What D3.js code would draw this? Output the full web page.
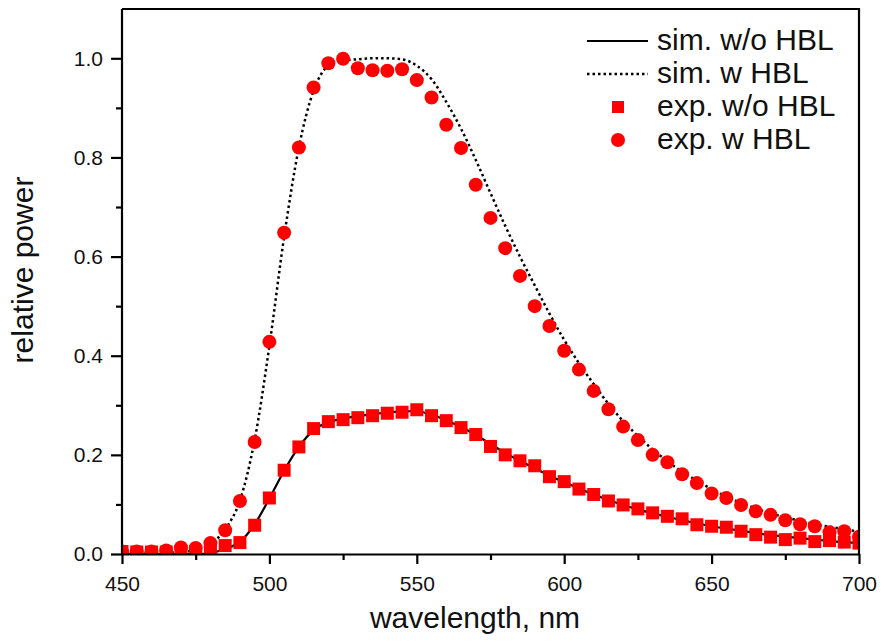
<!DOCTYPE html>
<html>
<head>
<meta charset="utf-8">
<script src="https://cdn.jsdelivr.net/npm/d3@7"></script>
<style>
  body { margin: 0; background: #fff; }
  svg { font-family: "Liberation Sans", Arial, sans-serif; }
  .axis path, .axis line { stroke: #000; stroke-width: 2.2; }
  .axis text { font-size: 21px; fill: #111; }
</style>
</head>
<body>
<div id="chart"></div>
<script>
// wavelength grid of the measured / simulated spectra (nm)
const wavelengths = d3.range(450, 701, 5);

// exp. w HBL (circles)
const expWithHBL = [0.005, 0.005, 0.005, 0.007, 0.013, 0.012, 0.022, 0.048, 0.107, 0.226,
  0.428, 0.648, 0.820, 0.941, 0.990, 0.999, 0.980, 0.976, 0.975, 0.978,
  0.956, 0.921, 0.866, 0.819, 0.745, 0.678, 0.617, 0.561, 0.500, 0.460,
  0.410, 0.372, 0.329, 0.292, 0.257, 0.230, 0.200, 0.185, 0.161, 0.143,
  0.122, 0.113, 0.099, 0.086, 0.079, 0.068, 0.060, 0.056, 0.044, 0.046, 0.035];

// exp. w/o HBL (squares)
const expWithoutHBL = [0.005, 0.004, 0.004, 0.004, 0.005, 0.005, 0.007, 0.017, 0.023, 0.058,
  0.113, 0.169, 0.216, 0.253, 0.267, 0.271, 0.275, 0.279, 0.284, 0.286,
  0.291, 0.279, 0.269, 0.255, 0.241, 0.217, 0.200, 0.188, 0.178, 0.156,
  0.146, 0.131, 0.120, 0.107, 0.099, 0.091, 0.083, 0.076, 0.071, 0.059,
  0.056, 0.054, 0.046, 0.039, 0.034, 0.029, 0.032, 0.025, 0.027, 0.024, 0.022];

// sim. w HBL (dotted)
const simWithHBL = [0.000, 0.000, 0.001, 0.002, 0.004, 0.008, 0.020, 0.050, 0.108, 0.230,
  0.420, 0.640, 0.820, 0.935, 0.985, 0.996, 0.998, 1.000, 1.000, 0.998,
  0.985, 0.958, 0.912, 0.858, 0.795, 0.728, 0.662, 0.600, 0.542, 0.485,
  0.432, 0.385, 0.343, 0.303, 0.268, 0.238, 0.211, 0.187, 0.166, 0.148,
  0.131, 0.116, 0.103, 0.092, 0.082, 0.074, 0.067, 0.060, 0.055, 0.050, 0.045];

// sim. w/o HBL (solid)
const simWithoutHBL = [0.000, 0.000, 0.000, 0.000, 0.000, 0.000, 0.002, 0.010, 0.025, 0.060,
  0.112, 0.168, 0.216, 0.250, 0.266, 0.273, 0.278, 0.282, 0.285, 0.288,
  0.288, 0.281, 0.270, 0.256, 0.240, 0.222, 0.204, 0.188, 0.173, 0.158,
  0.145, 0.132, 0.120, 0.109, 0.099, 0.090, 0.082, 0.075, 0.068, 0.062,
  0.056, 0.051, 0.047, 0.042, 0.038, 0.035, 0.032, 0.029, 0.026, 0.024, 0.022];

const xTicks = [450, 500, 550, 600, 650, 700];
const yTicks = [0, 0.2, 0.4, 0.6, 0.8, 1.0];
const legendLabels = ["sim. w/o HBL", "sim. w HBL", "exp. w/o HBL", "exp. w HBL"];

const W = 881, H = 644;
const margin = {top: 9, right: 22, bottom: 90, left: 122};
const width = W - margin.left - margin.right;
const height = H - margin.top - margin.bottom;

const svg = d3.select("#chart").append("svg")
    .attr("width", W)
    .attr("height", H);

const g = svg.append("g")
    .attr("transform", "translate(" + margin.left + "," + margin.top + ")");

// scales
const x = d3.scaleLinear().domain([450, 700]).range([0, width]);
const y = d3.scaleLinear().domain([0, 1.0]).range([height, 49.3]);

// clip so the edge markers are cut by the frame
g.append("clipPath").attr("id", "plot-clip")
  .append("rect").attr("width", width).attr("height", height);

const plot = g.append("g").attr("clip-path", "url(#plot-clip)");

const line = (vals) => d3.line()
    .x((d, i) => x(wavelengths[i]))
    .y(d => y(d))
    .curve(d3.curveMonotoneX)(vals);

plot.append("path")
    .attr("d", line(simWithoutHBL))
    .attr("fill", "none")
    .attr("stroke", "#000")
    .attr("stroke-width", 2.2);

plot.append("path")
    .attr("d", line(simWithHBL))
    .attr("fill", "none")
    .attr("stroke", "#000")
    .attr("stroke-width", 2.5)
    .attr("stroke-dasharray", "2.5,3");

// squares
const sq = 13;
plot.selectAll("rect.sq")
  .data(expWithoutHBL)
  .join("rect")
    .attr("class", "sq")
    .attr("x", (d, i) => x(wavelengths[i]) - sq / 2)
    .attr("y", d => y(d) - sq / 2)
    .attr("width", sq)
    .attr("height", sq)
    .attr("fill", "#f00");

// circles
plot.selectAll("circle.ci")
  .data(expWithHBL)
  .join("circle")
    .attr("class", "ci")
    .attr("cx", (d, i) => x(wavelengths[i]))
    .attr("cy", d => y(d))
    .attr("r", 7)
    .attr("fill", "#f00");

// axes: major + minor ticks
g.append("g")
    .attr("class", "axis")
    .attr("transform", "translate(0," + height + ")")
    .call(d3.axisBottom(x).tickValues(d3.range(475, 700, 50)).tickSize(6).tickFormat(""))
    .call(a => a.select(".domain").remove());

g.append("g")
    .attr("class", "axis")
    .attr("transform", "translate(0," + height + ")")
    .call(d3.axisBottom(x).tickValues(xTicks).tickSize(10).tickSizeOuter(0).tickPadding(12))
    .call(a => a.selectAll("text").attr("dy", "0.71em"));

g.append("g")
    .attr("class", "axis")
    .call(d3.axisLeft(y).tickValues(d3.range(0.1, 1.0, 0.2)).tickSize(6).tickFormat(""))
    .call(a => a.select(".domain").remove());

g.append("g")
    .attr("class", "axis")
    .call(d3.axisLeft(y).tickValues(yTicks).tickSize(11).tickSizeOuter(0).tickPadding(8).tickFormat(d3.format(".1f")))
    .call(a => a.select(".domain").attr("d", "M0," + height + "V0"));

// frame top and right
g.append("path")
    .attr("d", "M0,0H" + width + "V" + height)
    .attr("fill", "none")
    .attr("stroke", "#000")
    .attr("stroke-width", 2.2);

// axis titles
svg.append("text")
    .attr("x", 475)
    .attr("y", 628)
    .attr("text-anchor", "middle")
    .attr("font-size", 30)
    .attr("fill", "#111")
    .text("wavelength, nm");

svg.append("text")
    .attr("transform", "translate(33,270) rotate(-90)")
    .attr("text-anchor", "middle")
    .attr("font-size", 30)
    .attr("fill", "#111")
    .text("relative power");

// legend
const legend = svg.append("g");
const rowY = [41, 74, 107, 140];

legend.append("line")
    .attr("x1", 587).attr("x2", 648)
    .attr("y1", rowY[0]).attr("y2", rowY[0])
    .attr("stroke", "#000").attr("stroke-width", 2.2);

legend.append("line")
    .attr("x1", 587).attr("x2", 648)
    .attr("y1", rowY[1]).attr("y2", rowY[1])
    .attr("stroke", "#000").attr("stroke-width", 2.5)
    .attr("stroke-dasharray", "2.5,3");

legend.append("rect")
    .attr("x", 618 - 6).attr("y", rowY[2] - 6)
    .attr("width", 12).attr("height", 12)
    .attr("fill", "#f00");

legend.append("circle")
    .attr("cx", 618).attr("cy", rowY[3])
    .attr("r", 7)
    .attr("fill", "#f00");

legend.selectAll("text")
  .data(legendLabels)
  .join("text")
    .attr("x", 657)
    .attr("y", (d, i) => rowY[i] + 9)
    .attr("font-size", 30)
    .attr("fill", "#111")
    .text(d => d);
</script>
</body>
</html>
